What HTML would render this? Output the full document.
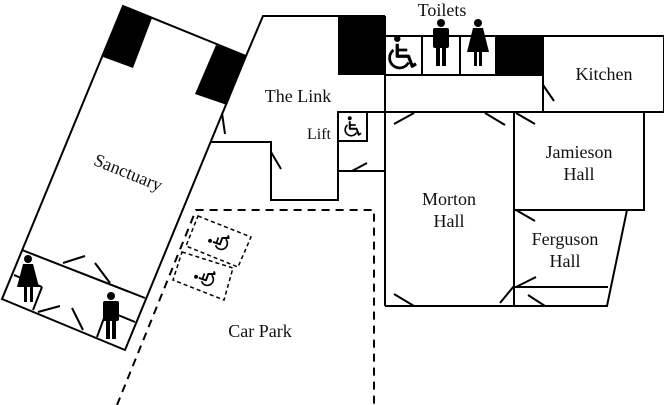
<!DOCTYPE html>
<html><head><style>html,body{margin:0;padding:0;background:#fff}svg{display:block}text{font-family:"Liberation Serif",serif;fill:#111}</style></head><body>
<svg width="664" height="405" viewBox="0 0 664 405" xmlns="http://www.w3.org/2000/svg">
<defs>
<g id="wc" fill="none" stroke="#000">
<circle cx="-3" cy="-13" r="2.6" fill="#000" stroke="none"/>
<polyline points="-3,-9 -3,1 6,1 9,9 12,7" stroke-width="2.6" stroke-linejoin="round"/>
<line x1="-3" y1="-4" x2="5" y2="-4" stroke-width="2.2"/>
<path d="M-6,-4 A8,8 0 1,0 6,6" stroke-width="2.2"/>
</g>
</defs>
<g fill="none" stroke="#000" stroke-width="2">
<polygon points="123,6 246,56 125,350 2,299"/>
<line x1="22" y1="250" x2="145" y2="298"/>
<line x1="14" y1="275" x2="42" y2="287"/>
<line x1="42" y1="287" x2="33" y2="310"/>
<line x1="118" y1="315" x2="135" y2="322"/>
<line x1="97" y1="337" x2="104" y2="318"/>
<line x1="63" y1="263" x2="85" y2="256"/>
<line x1="95" y1="263" x2="110" y2="283"/>
<line x1="38" y1="312" x2="60" y2="306"/>
<line x1="72" y1="308" x2="83" y2="330"/>
<polyline points="246,56 263,16 385,16"/>
<polyline points="211,142 271,142 271,200 338,200 338,112 385,112"/>
<rect x="338" y="112" width="29" height="29"/>
<line x1="338" y1="171" x2="385" y2="171"/>
<line x1="352" y1="171" x2="367" y2="163"/>
<line x1="222" y1="113" x2="225" y2="134"/>
<line x1="271" y1="152" x2="281" y2="169"/>
<line x1="385" y1="16" x2="385" y2="306"/>
<polyline points="385,36 664,36 664,112 385,112"/>
<line x1="385" y1="75" x2="543" y2="75"/>
<line x1="422" y1="36" x2="422" y2="75"/>
<line x1="460" y1="36" x2="460" y2="75"/>
<line x1="496" y1="36" x2="496" y2="75"/>
<line x1="543" y1="36" x2="543" y2="112"/>
<line x1="543" y1="85" x2="554" y2="101"/>
<polyline points="385,306 607,306 627,210 644,210 644,112"/>
<line x1="514" y1="112" x2="514" y2="306"/>
<line x1="514" y1="210" x2="627" y2="210"/>
<line x1="514" y1="287" x2="608" y2="287"/>
<line x1="394" y1="124" x2="414" y2="113"/>
<line x1="485" y1="113" x2="505" y2="125"/>
<line x1="394" y1="294" x2="414" y2="306"/>
<line x1="500" y1="303" x2="514" y2="286"/>
<line x1="516" y1="113" x2="535" y2="124"/>
<line x1="516" y1="210" x2="535" y2="221"/>
<line x1="516" y1="287" x2="536" y2="277"/>
<line x1="528" y1="295" x2="545" y2="306"/>
</g>
<g fill="#000">
<polygon points="123,6 152,18 133,68 103,57"/>
<polygon points="216,45 246,56 227,105 195,94"/>
<rect x="338" y="16" width="47" height="59"/>
<rect x="496" y="36" width="47" height="39"/>
</g>
<g fill="none" stroke="#000" stroke-width="2" stroke-dasharray="8,6">
<polyline points="117,405 196,210 374,210 374,405"/>
</g>
<g fill="none" stroke="#000" stroke-width="1.5" stroke-dasharray="4,3">
<polygon points="198,216 251,237 238,267 186,246"/>
<polygon points="182,252 233,268 224,300 173,280"/>
</g>
<use href="#wc" transform="translate(401,55) scale(1.25)"/>
<use href="#wc" transform="translate(352,128) scale(0.75)"/>
<use href="#wc" transform="translate(220,242) rotate(-70) scale(0.75)"/>
<use href="#wc" transform="translate(206,278) rotate(-70) scale(0.75)"/>
<g fill="#000">
<circle cx="441" cy="23" r="4"/><rect x="433" y="28" width="16" height="20" rx="2"/><rect x="436" y="46" width="4" height="20"/><rect x="442" y="46" width="4" height="20"/>
<circle cx="478" cy="23" r="4"/><polygon points="473,28 483,28 489,52 467,52"/><rect x="474" y="50" width="3" height="16"/><rect x="479" y="50" width="3" height="16"/>
<circle cx="28" cy="259" r="4"/><polygon points="23,264 33,264 39,287 17,287"/><rect x="24" y="285" width="3" height="17"/><rect x="30" y="285" width="3" height="17"/>
<circle cx="111" cy="296" r="4"/><rect x="103" y="301" width="16" height="20" rx="2"/><rect x="106" y="319" width="4" height="20"/><rect x="112" y="319" width="4" height="20"/>
</g>
<g font-size="18">
<text x="442" y="16" text-anchor="middle">Toilets</text>
<text x="604" y="80" text-anchor="middle">Kitchen</text>
<text x="298" y="102" text-anchor="middle">The Link</text>
<text x="319" y="139" text-anchor="middle" font-size="16">Lift</text>
<text x="579" y="158" text-anchor="middle">Jamieson</text>
<text x="579" y="180" text-anchor="middle">Hall</text>
<text x="449" y="205" text-anchor="middle">Morton</text>
<text x="449" y="227" text-anchor="middle">Hall</text>
<text x="565" y="245" text-anchor="middle">Ferguson</text>
<text x="565" y="267" text-anchor="middle">Hall</text>
<text x="260" y="337" text-anchor="middle">Car Park</text>
<text transform="translate(126,178) rotate(22)" text-anchor="middle">Sanctuary</text>
</g>
</svg>
</body></html>
